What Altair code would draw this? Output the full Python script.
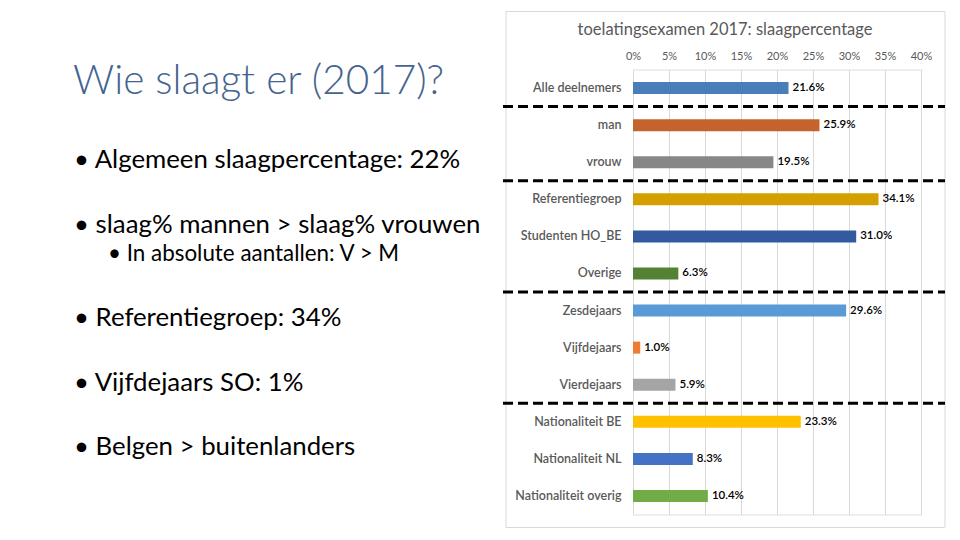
import altair as alt
import pandas as pd

categories = ["Alle deelnemers", "man", "vrouw", "Referentiegroep", "Studenten HO_BE",
              "Overige", "Zesdejaars", "Vijfdejaars", "Vierdejaars",
              "Nationaliteit BE", "Nationaliteit NL", "Nationaliteit overig"]
values = [0.216, 0.259, 0.195, 0.341, 0.310, 0.063, 0.296, 0.010, 0.059, 0.233, 0.083, 0.104]
colors = ["#4A7EBB", "#C4642C", "#878787", "#D4A000", "#335A9E", "#548235",
          "#5B9BD5", "#ED7D31", "#A5A5A5", "#FFC000", "#4472C4", "#70AD47"]
separators_after = ["Alle deelnemers", "vrouw", "Overige", "Vierdejaars"]
x_ticks = [0, 0.05, 0.10, 0.15, 0.20, 0.25, 0.30, 0.35, 0.40]

chart_title = "toelatingsexamen 2017: slaagpercentage"
slide_title = "Wie slaagt er (2017)?"
bullets = ["• Algemeen slaagpercentage: 22%", "• slaag% mannen > slaag% vrouwen",
           "• Referentiegroep: 34%", "• Vijfdejaars SO: 1%", "• Belgen > buitenlanders"]
sub_bullet = "• In absolute aantallen: V > M"

df = pd.DataFrame({"cat": categories, "v": values})
sep_df = pd.DataFrame({"cat": separators_after})

W, H = 288, 445
FONT = "Lato"

yaxis = alt.Axis(title=None, domain=False, ticks=False, labelPadding=12,
                 labelFontSize=12.5, labelColor="#595959", labelFont=FONT,
                 labelFontWeight=600)
yscale = alt.Scale(domain=categories, paddingInner=0, paddingOuter=0)
xaxis = alt.Axis(title=None, orient="top", values=x_ticks, format=".0%",
                 domain=False, ticks=False, labelPadding=8, labelFontSize=11,
                 labelColor="#595959", labelFont=FONT, labelOverlap=False,
                 labelFlush=False, grid=True, gridColor="#D9D9D9")
xscale = alt.Scale(domain=[0, 0.4], nice=False)

frame = alt.Chart(df).mark_rect(fillOpacity=0, stroke="#D9D9D9", strokeWidth=1).encode(
    x=alt.value(-127), x2=alt.value(312), y=alt.value(-58), y2=alt.value(458)
).transform_filter("datum.cat == 'Alle deelnemers'")

bars = alt.Chart(df).mark_bar(size=12).encode(
    x=alt.X("v:Q", scale=xscale, axis=xaxis),
    y=alt.Y("cat:N", sort=categories, scale=yscale, axis=yaxis),
    color=alt.Color("cat:N", scale=alt.Scale(domain=categories, range=colors), legend=None),
)

labels = alt.Chart(df).mark_text(align="left", baseline="middle", dx=4, fontSize=11.5,
                                 font=FONT, color="black", fontWeight=600).encode(
    x=alt.X("v:Q", scale=xscale, axis=xaxis),
    y=alt.Y("cat:N", sort=categories, scale=yscale, axis=yaxis),
    text=alt.Text("v:Q", format=".1%"),
)

seps = alt.Chart(sep_df).mark_rule(color="black", strokeWidth=3, strokeDash=[10, 5]).encode(
    y=alt.Y("cat:N", sort=categories, bandPosition=1, scale=yscale, axis=yaxis),
    x=alt.value(-130), x2=alt.value(312),
)

title_txt = alt.Chart(df).mark_text(fontSize=16.5, font=FONT, color="#595959",
                                    align="center", baseline="middle").encode(
    x=alt.value(92), y=alt.value(-39.5), text=alt.value(chart_title)
).transform_filter("datum.cat == 'Alle deelnemers'")

def slide_text(txt, x, y, size, color="black", weight=400):
    return alt.Chart(df).mark_text(fontSize=size, font=FONT, color=color, fontWeight=weight,
                                   align="left", baseline="middle").encode(
        x=alt.value(x - 633), y=alt.value(y - 69.5), text=alt.value(txt)
    ).transform_filter("datum.cat == 'Alle deelnemers'")

left = [slide_text(slide_title, 73, 82, 40.5, "#44648F", 300)]
bullet_y = [160, 225, 318, 383, 447]
for t, yy in zip(bullets, bullet_y):
    left.append(slide_text(t, 74, yy, 25.8))
left.append(slide_text(sub_bullet, 108, 254, 22.4))

chart = alt.layer(frame, bars, labels, seps, title_txt, *left).properties(
    width=W, height=H,
    autosize=alt.AutoSizeParams(type="none"),
    padding={"left": 625, "top": 61.5, "right": 30, "bottom": 15},
).configure_view(stroke=None).configure(background="white")

chart.save("out.html", embed_options={"renderer": "svg", "actions": False})
